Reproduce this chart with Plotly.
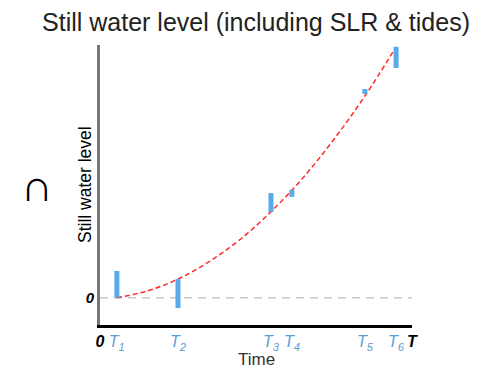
import plotly.graph_objects as go

# ---- data ----
tick_names = ["T1", "T2", "T3", "T4", "T5", "T6"]
tick_times = [0.54, 2.5, 5.48, 6.15, 8.49, 9.49]
bar_low = [0.0, -0.38, 3.14, 3.69, 7.46, 8.41]
bar_high = [0.98, 0.68, 3.83, 3.95, 7.64, 9.18]

curve_x = [0.54, 1.5, 2.5, 3.5, 4.5, 5.5, 6.5, 7.5, 8.5, 9.49]
curve_y = [0.0, 0.24, 0.68, 1.32, 2.14, 3.17, 4.38, 5.80, 7.40, 9.18]

x_end = 10.0
y_range = [-1.0, 9.25]

BLUE = "#58aaeb"
LABEL_BLUE = "#5b9bd5"
FONT = "Liberation Sans, Arial, sans-serif"

# page has an 8px body margin; figure placed at (8, 8)
OFF = 8
W, H = 490 - OFF, 368 - OFF

fig = go.Figure()

# zero reference line
fig.add_trace(go.Scatter(x=[0, x_end], y=[0, 0], mode="lines",
                         line=dict(color="#c8c8c8", width=1.5, dash="8px,6px"),
                         hoverinfo="skip", showlegend=False))

# red dashed curve
fig.add_trace(go.Scatter(x=curve_x, y=curve_y, mode="lines",
                         line=dict(color="#ff2a2a", width=1.5, dash="5px,3px", shape="spline"),
                         showlegend=False))

# blue vertical bars
bx, by = [], []
for t, lo, hi in zip(tick_times, bar_low, bar_high):
    bx += [t, t, None]
    by += [lo, hi, None]
fig.add_trace(go.Scatter(x=bx, y=by, mode="lines",
                         line=dict(color=BLUE, width=5),
                         showlegend=False))

ticktext = ["<b><i>0</i></b>"] + [
    f"<span style='color:{LABEL_BLUE}'><i>{n[0]}<sub>{n[1]}</sub></i></span>" for n in tick_names
] + ["<b><i>T</i></b>"]

fig.update_layout(
    width=W, height=H,
    margin=dict(l=100 - OFF, r=W - (100 - OFF) - 312, t=45 - OFF, b=H - (45 - OFF) - 280),
    paper_bgcolor="white", plot_bgcolor="white",
    font=dict(family=FONT, color="black"),
    title=dict(text="Still water level (including SLR & tides)",
               x=(256 - OFF) / W, xanchor="center", y=1 - (22 - OFF) / H, yanchor="middle",
               font=dict(size=25, color="#222222", family=FONT)),
    xaxis=dict(range=[0, x_end], tickvals=[0] + tick_times + [x_end], ticktext=ticktext,
               showgrid=False, zeroline=False, showline=True, linecolor="black", linewidth=3,
               ticks="", tickfont=dict(size=16, color="black")),
    yaxis=dict(range=y_range, tickvals=[0], ticktext=["<b><i>0</i></b>"],
               showgrid=False, zeroline=False, showline=True, linecolor="#777777", linewidth=3,
               ticks="", tickfont=dict(size=15, color="black")),
    annotations=[
        dict(text="Time", xref="paper", yref="paper", x=(256 - 100) / 312, y=-(359 - 325) / 280,
             xanchor="center", yanchor="middle", showarrow=False,
             font=dict(size=17, color="#333333", family=FONT)),
        dict(text="Still water level", xref="paper", yref="paper", x=(85 - 100) / 312, y=0.5,
             xanchor="center", yanchor="middle", showarrow=False, textangle=-90,
             font=dict(size=17.5, color="black", family=FONT)),
        dict(text="∩", xref="paper", yref="paper", x=(37 - 100) / 312, y=(325 - 185) / 280,
             xanchor="center", yanchor="middle", showarrow=False,
             font=dict(size=44, color="black", family=FONT)),
    ],
)

fig.write_html("out.html")
